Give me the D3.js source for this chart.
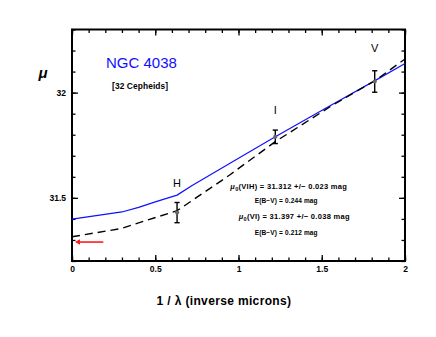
<!DOCTYPE html>
<html><head><meta charset="utf-8">
<script src="https://cdn.jsdelivr.net/npm/d3@7"></script>
<style>
body{margin:0;background:#fff}
svg{display:block}
text{font-family:"Liberation Sans",Arial,Helvetica,sans-serif}
</style></head>
<body><svg id="c" width="436" height="337"></svg>
<script>
// ---------------- data ----------------
const xMajor = [0, 0.5, 1, 1.5, 2];
const xLabels = ["0", "0.5", "1", "1.5", "2"];
const yMajor = [31.5, 32];
const yLabels = ["31.5", "32"];

const bands = ["H", "I", "V"];
const bandX = [0.631, 1.221, 1.818];
const bandMu = [31.430, 31.790, 32.053];
const bandErr = [0.048, 0.032, 0.051];

// mu(VI) extinction curve (blue, solid)
const viX  = [0, 0.3, 0.4, 0.5, 0.631, 0.719, 0.949, 1.221, 1.55, 1.82, 2.0];
const viMu = [31.399, 31.433, 31.455, 31.481, 31.513, 31.558, 31.664, 31.790, 31.938, 32.057, 32.138];
// mu(VIH) extinction curve (black, dashed)
const vihX  = [0, 0.3, 0.438, 0.631, 0.859, 0.949, 1.221, 1.55, 1.82, 2.0];
const vihMu = [31.315, 31.355, 31.391, 31.439, 31.561, 31.610, 31.767, 31.933, 32.057, 32.160];

// red arrow (adopted modulus marker)
const arrowX = [0.188, 0.018];
const arrowMu = [31.29, 31.29];

const title = "NGC 4038";
const subtitle = "[32 Cepheids]";
const xTitle = "1 / \u03bb (inverse microns)";
const yTitle = "\u03bc";
const notes = [
  {mu: "\u03bc", sub: "0", rest: "(VIH) = 31.312 +/\u2212 0.023 mag"},
  {text: "E(B\u2212V) = 0.244 mag"},
  {mu: "\u03bc", sub: "0", rest: "(VI) = 31.397 +/\u2212 0.038 mag"},
  {text: "E(B\u2212V) = 0.212 mag"}
];

// ---------------- layout ----------------
const svg = d3.select("#c");
svg.append("rect").attr("width", 436).attr("height", 337).attr("fill", "#fff");
const L = 72, R = 405, T = 29.5, B = 261;
const x = d3.scaleLinear().domain([0, 2]).range([L, R]);
const y = d3.scaleLinear().domain([31.2, 32.3]).range([B, T]);

function styleAxis(g, fs) {
  g.select(".domain").remove();
  g.selectAll(".tick line").attr("stroke", "#000").attr("stroke-width", 1.3);
  g.selectAll("text").attr("font-size", fs).attr("font-weight", "bold").attr("fill", "#000")
    .attr("font-family", "'Liberation Sans',Arial,sans-serif");
}

// minor ticks
const xMinor = x.ticks(20), yMinor = y.ticks(11);
[[d3.axisBottom(x), `translate(0,${B})`], [d3.axisTop(x), `translate(0,${T})`]].forEach(([ax, tr]) => {
  svg.append("g").attr("transform", tr)
    .call(ax.tickValues(xMinor).tickFormat("").tickSizeInner(-3.5).tickSizeOuter(0))
    .call(g => styleAxis(g, 8));
});
[[d3.axisLeft(y), `translate(${L},0)`], [d3.axisRight(y), `translate(${R},0)`]].forEach(([ax, tr]) => {
  svg.append("g").attr("transform", tr)
    .call(ax.tickValues(yMinor).tickFormat("").tickSizeInner(-3.5).tickSizeOuter(0))
    .call(g => styleAxis(g, 8));
});
// major ticks with labels
svg.append("g").attr("transform", `translate(0,${B})`)
  .call(d3.axisBottom(x).tickValues(xMajor).tickFormat((d, i) => xLabels[i]).tickSizeInner(-6).tickSizeOuter(0).tickPadding(5))
  .call(g => styleAxis(g, 8.5));
svg.append("g").attr("transform", `translate(0,${T})`)
  .call(d3.axisTop(x).tickValues(xMajor).tickFormat("").tickSizeInner(-6).tickSizeOuter(0))
  .call(g => styleAxis(g, 8.5));
svg.append("g").attr("transform", `translate(${L},0)`)
  .call(d3.axisLeft(y).tickValues(yMajor).tickFormat((d, i) => yLabels[i]).tickSizeInner(-6).tickSizeOuter(0).tickPadding(6))
  .call(g => styleAxis(g, 8.5));
svg.append("g").attr("transform", `translate(${R},0)`)
  .call(d3.axisRight(y).tickValues(yMajor).tickFormat("").tickSizeInner(-6).tickSizeOuter(0))
  .call(g => styleAxis(g, 8.5));

// frame
svg.append("rect").attr("x", L).attr("y", T).attr("width", R - L).attr("height", B - T)
  .attr("fill", "none").attr("stroke", "#000").attr("stroke-width", 2);

// curves
const line = d3.line().x(d => x(d[0])).y(d => y(d[1])).curve(d3.curveLinear);
svg.append("path").datum(viX.map((v, i) => [v, viMu[i]]))
  .attr("d", line).attr("fill", "none").attr("stroke", "#1010ff").attr("stroke-width", 1.2)
  .attr("stroke-linejoin", "round");
svg.append("path").datum(vihX.map((v, i) => [v, vihMu[i]]))
  .attr("d", line).attr("fill", "none").attr("stroke", "#000").attr("stroke-width", 1.4)
  .attr("stroke-dasharray", "8,5");

// data points with error bars
const pts = bands.map((b, i) => ({b, x: bandX[i], mu: bandMu[i], e: bandErr[i]}));
const labelOff = [15, 16, 19];
const pg = svg.append("g");
pts.forEach((p, i) => {
  const cx = x(p.x);
  pg.append("line").attr("x1", cx).attr("x2", cx).attr("y1", y(p.mu - p.e)).attr("y2", y(p.mu + p.e))
    .attr("stroke", "#000").attr("stroke-width", 1.4);
  [p.mu - p.e, p.mu + p.e].forEach(v => {
    pg.append("line").attr("x1", cx - 2.6).attr("x2", cx + 2.6).attr("y1", y(v)).attr("y2", y(v))
      .attr("stroke", "#000").attr("stroke-width", 1.4);
  });
  pg.append("circle").attr("cx", cx).attr("cy", y(p.mu)).attr("r", 2.1).attr("fill", "#666");
  pg.append("text").attr("x", cx).attr("y", y(p.mu + p.e) - labelOff[i])
    .attr("text-anchor", "middle").attr("font-size", 11).attr("fill", "#000").text(p.b);
});

// red arrow
const ax1 = x(arrowX[0]), ax2 = x(arrowX[1]), ay = y(arrowMu[0]);
svg.append("line").attr("x1", ax1).attr("x2", ax2 + 3).attr("y1", ay).attr("y2", ay)
  .attr("stroke", "#ff1a1a").attr("stroke-width", 1.6);
svg.append("path").attr("d", `M${ax2},${ay} L${ax2 + 5},${ay - 2.8} L${ax2 + 5},${ay + 2.8} Z`)
  .attr("fill", "#ff1a1a");

// titles
svg.append("text").attr("x", 106).attr("y", 68.3).attr("font-size", 15).attr("fill", "#1010ff").text(title);
svg.append("text").attr("x", 112).attr("y", 89.3).attr("font-size", 8.4).attr("font-weight", "bold")
  .attr("letter-spacing", 0.1).attr("fill", "#000").text(subtitle);
svg.append("text").attr("x", 224).attr("y", 305).attr("text-anchor", "middle").attr("font-size", 12)
  .attr("font-weight", "bold").attr("letter-spacing", 0.35).attr("fill", "#000").text(xTitle);
svg.append("text").attr("x", 43).attr("y", 78).attr("text-anchor", "middle").attr("font-size", 15)
  .attr("font-style", "italic").attr("font-weight", "bold").attr("fill", "#000").text(yTitle);

// annotation block
const noteX = [230.3, 254.7, 238.7, 254.7];
const noteY = [188.5, 203, 219, 234.5];
notes.forEach((n, i) => {
  const t = svg.append("text").attr("x", noteX[i]).attr("y", noteY[i]).attr("fill", "#000")
    .attr("font-weight", "bold");
  if (n.text) {
    t.attr("font-size", 6.5).attr("letter-spacing", 0.15).text(n.text);
  } else {
    t.attr("font-size", 7.5).attr("letter-spacing", 0.3);
    t.append("tspan").attr("font-style", "italic").text(n.mu);
    t.append("tspan").attr("font-size", 5.5).attr("dy", 2).text(n.sub);
    t.append("tspan").attr("dy", -2).text(n.rest);
  }
});
</script></body></html>
